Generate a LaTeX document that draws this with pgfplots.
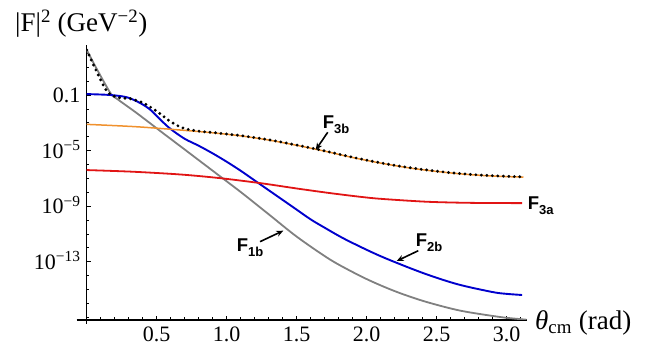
\documentclass[border=0pt]{standalone}
\usepackage{fontspec}
\setmainfont{Liberation Serif}
\newfontfamily\arial{Liberation Sans}
\usepackage{pgfplots}
\pgfplotsset{compat=1.18}
\usetikzlibrary{arrows.meta}
\definecolor{cgray}{RGB}{128,128,128}
\definecolor{cblue}{RGB}{0,0,205}
\definecolor{cred}{RGB}{225,20,20}
\definecolor{corange}{RGB}{240,145,45}
\newcommand{\flab}[2]{{\arial\bfseries\fontsize{18.5}{20}\selectfont F\raisebox{-5pt}{\fontsize{13}{14}\selectfont #1}}}
\begin{document}
\begin{tikzpicture}[x=1pt,y=1pt]
\useasboundingbox (-86.7,-43) rectangle (577.3,320);
\begin{axis}[
  at={(0,0)}, anchor=south west,
  scale only axis, width=439.8pt, height=275pt,
  xmin=0, xmax=3.14159, ymode=log, ymin=6.46e-18, ymax=398,
  axis x line=bottom, axis y line=left,
  axis line style={-, line width=1.3pt, black},
  tick align=inside, major tick length=4pt, minor tick length=2.5pt,
  tick style={black, line width=0.8pt},
  xtick={0.5,1.0,1.5,2.0,2.5,3.0}, xticklabels={0.5,1.0,1.5,2.0,2.5,3.0},
  minor xtick={0.1,0.2,0.3,0.4,0.6,0.7,0.8,0.9,1.1,1.2,1.3,1.4,1.6,1.7,1.8,1.9,2.1,2.2,2.3,2.4,2.6,2.7,2.8,2.9,3.1},
  ytick={1e-1,1e-5,1e-9,1e-13},
  yticklabels={0.1,10\textsuperscript{−5},10\textsuperscript{−9},10\textsuperscript{−13}},
  minor ytick={1e2,1e1,1,1e-2,1e-3,1e-4,1e-6,1e-7,1e-8,1e-10,1e-11,1e-12,1e-14,1e-15,1e-16,1e-17},
  tick label style={font=\fontsize{22}{24}\selectfont, inner sep=0pt},
  xticklabel style={anchor=north, yshift=-7pt},
  yticklabel style={anchor=base east, xshift=-6pt, yshift=-7.5pt},
]
% F1b (gray)
\addplot[cgray, line width=1.8pt, smooth, tension=0.5] coordinates {
(0,1.74e2) (0.076,6.31) (0.171,1.32e-1) (0.22,5.01e-2) (0.36,4.79e-3) (0.55,1.66e-4)
(0.70,1.20e-5) (0.90,3.55e-7) (1.10,1.05e-8) (1.30,2.63e-10) (1.50,6.46e-12)
(1.74,1.41e-13) (1.95,1.00e-14) (2.10,2.00e-15) (2.25,5.01e-16) (2.43,1.26e-16)
(2.67,3.02e-17) (2.95,1.07e-17) (3.10,7.41e-18) (3.1416,6.76e-18)
};
% F2b (blue)
\addplot[cblue, line width=1.9pt, smooth, tension=0.5] coordinates {
(0,1.17e-1) (0.171,1.00e-1) (0.290,6.76e-2) (0.386,2.51e-2) (0.457,8.32e-3) (0.529,1.58e-3)
(0.60,3.55e-4) (0.70,7.08e-5) (0.80,2.24e-5) (0.90,6.31e-6) (1.00,1.58e-6) (1.10,3.55e-7)
(1.20,7.08e-8) (1.30,1.41e-8) (1.40,2.82e-9) (1.50,5.62e-10) (1.60,1.12e-10) (1.70,2.82e-11)
(1.85,3.98e-12) (2.10,2.51e-13) (2.40,1.58e-14) (2.65,2.40e-15) (2.90,6.61e-16)
(3.00,4.90e-16) (3.11,4.07e-16)
};
% F3a (red)
\addplot[cred, line width=1.8pt, smooth, tension=0.5] coordinates {
(0,3.98e-7) (0.33,3.02e-7) (0.67,1.91e-7) (0.95,1.05e-7) (1.24,4.57e-8) (1.51,1.82e-8)
(1.74,8.71e-9) (1.95,4.79e-9) (2.10,3.39e-9) (2.43,2.09e-9) (2.74,1.74e-9) (3.11,1.66e-9)
};
% F3b (orange)
\addplot[corange, line width=1.5pt, smooth, tension=0.5] coordinates {
(0,7.76e-4) (0.35,5.25e-4) (0.67,3.02e-4) (0.90,1.91e-4) (1.10,1.15e-4) (1.30,5.75e-5)
(1.50,2.40e-5) (1.70,9.12e-6) (1.90,3.16e-6) (2.10,1.26e-6) (2.30,5.75e-7) (2.50,3.16e-7)
(2.70,2.00e-7) (2.90,1.48e-7) (3.12,1.23e-7)
};
% total (black dotted)
\addplot[black, line width=3.2pt, line cap=round, dash pattern=on 0pt off 5.5pt, smooth, tension=0.5] coordinates {
(0,1.74e2) (0.076,3.80) (0.147,1.74e-1) (0.219,6.76e-2) (0.314,5.37e-2) (0.409,2.51e-2)
(0.504,6.31e-3) (0.600,1.20e-3) (0.695,3.98e-4) (0.814,2.40e-4) (0.90,2.00e-4)
(1.10,1.20e-4) (1.30,6.03e-5) (1.50,2.51e-5) (1.70,9.55e-6) (1.90,3.31e-6) (2.10,1.32e-6)
(2.30,6.03e-7) (2.50,3.31e-7) (2.70,2.09e-7) (2.90,1.55e-7) (3.12,1.29e-7)
};
\end{axis}
\draw[line width=1.3pt] (-10,0) -- (0,0);
\draw[line width=1.3pt] (0,0) -- (0,-4);
\node[anchor=base west, inner sep=0pt, font=\fontsize{27}{30}\selectfont] at (-71.7,288) {|F|\textsuperscript{2} (GeV\textsuperscript{−2})};
\node[anchor=base west, inner sep=0pt, font=\fontsize{27}{30}\selectfont] at (448.3,-10) {\textit{θ}\textsubscript{cm} (rad)};
\node[anchor=base west, inner sep=0pt] at (236,191.7) {\flab{3b}{}};
\node[anchor=base west, inner sep=0pt] at (441,110) {\flab{3a}{}};
\node[anchor=base west, inner sep=0pt] at (329,73.3) {\flab{2b}{}};
\node[anchor=base west, inner sep=0pt] at (150,68.3) {\flab{1b}{}};
\draw[-{Stealth[length=7pt,width=6pt]}, line width=1.6pt] (241,187.7) -- (229,170);
\draw[-{Stealth[length=7pt,width=6pt]}, line width=1.6pt] (331.6,69.3) -- (310,59);
\draw[-{Stealth[length=7pt,width=6pt]}, line width=1.6pt] (173.3,78.3) -- (196.6,89.3);
\end{tikzpicture}
\end{document}
